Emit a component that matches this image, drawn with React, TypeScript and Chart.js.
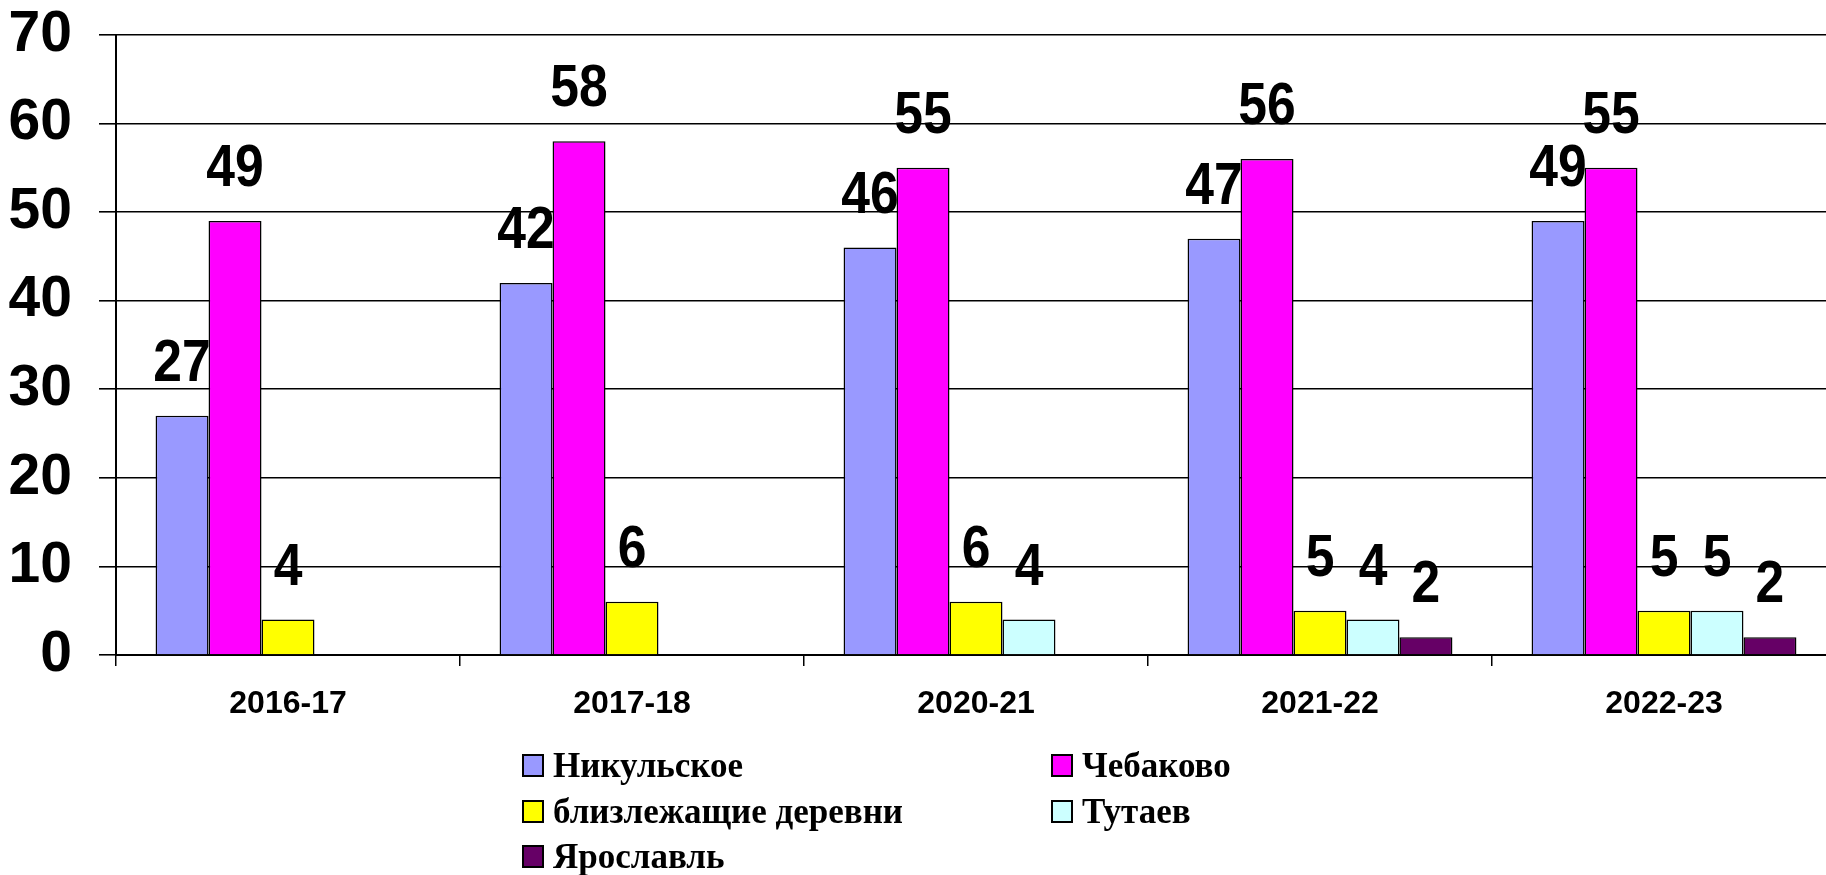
import React, { useEffect, useRef } from "react";
import { Chart, registerables } from "chart.js";

Chart.register(...registerables);

const categories = ["2016-17", "2017-18", "2020-21", "2021-22", "2022-23"];
const seriesNames = ["Никульское", "Чебаково", "близлежащие деревни", "Тутаев", "Ярославль"];
const nikulskoe = [27, 42, 46, 47, 49];
const chebakovo = [49, 58, 55, 56, 55];
const blizDerevni = [4, 6, 6, 5, 5];
const tutaev = [null, null, 4, 4, 5];
const yaroslavl = [null, null, null, 2, 2];
const seriesColors = ["#9999FF", "#FF00FF", "#FFFF00", "#CCFFFF", "#660066"];
const yTicks = [0, 10, 20, 30, 40, 50, 60, 70];

const SANS = "'Liberation Sans', Arial, sans-serif";
const SERIF = "'Liberation Serif', 'Times New Roman', serif";

const dataLabelPlugin = {
  id: "dataLabelsBehind",
  beforeDatasetsDraw(chart: any) {
    const ctx = chart.ctx;
    ctx.save();
    ctx.fillStyle = "#000";
    ctx.font = `bold 60px ${SANS}`;
    ctx.textAlign = "center";
    ctx.textBaseline = "alphabetic";
    chart.data.datasets.forEach((ds: any, i: number) => {
      const meta = chart.getDatasetMeta(i);
      meta.data.forEach((el: any, j: number) => {
        const v = ds.data[j];
        if (v === null || v === undefined) return;
        ctx.save();
        ctx.translate(el.x, el.y - 35);
        ctx.scale(0.86, 1);
        ctx.fillText(String(v), 0, 0);
        ctx.restore();
      });
    });
    ctx.restore();
  },
};

const legendPlugin = {
  id: "customLegend",
  afterDraw(chart: any) {
    const ctx = chart.ctx;
    const colX = [523, 1052];
    const rowY = [755, 801, 846];
    ctx.save();
    ctx.font = `bold 35px ${SERIF}`;
    ctx.textAlign = "left";
    ctx.textBaseline = "alphabetic";
    chart.data.datasets.forEach((ds: any, i: number) => {
      const col = i % 2;
      const row = Math.floor(i / 2);
      const x = colX[col];
      const y = rowY[row];
      ctx.fillStyle = ds.backgroundColor;
      ctx.fillRect(x, y, 20, 21);
      ctx.lineWidth = 2;
      ctx.strokeStyle = "#000";
      ctx.strokeRect(x, y, 20, 21);
      ctx.fillStyle = "#000";
      ctx.fillText(ds.label, x + 30, y + 22);
    });
    ctx.restore();
  },
};

export default function App() {
  const canvasRef = useRef<HTMLCanvasElement | null>(null);

  useEffect(() => {
    if (!canvasRef.current) return;
    const seriesData = [nikulskoe, chebakovo, blizDerevni, tutaev, yaroslavl];
    const chart = new Chart(canvasRef.current, {
      type: "bar",
      data: {
        labels: categories,
        datasets: seriesNames.map((name, i) => ({
          label: name,
          data: seriesData[i],
          backgroundColor: seriesColors[i],
          borderColor: "#000",
          borderWidth: 1.5,
          categoryPercentage: 0.77,
          barPercentage: 1.0,
        })),
      },
      options: {
        responsive: true,
        maintainAspectRatio: false,
        animation: false,
        layout: { padding: { top: 35, left: 0, right: 0, bottom: 0 } },
        plugins: {
          legend: { display: false },
          tooltip: { enabled: false },
          title: { display: false },
        },
        scales: {
          x: {
            offset: true,
            grid: {
              display: true,
              drawOnChartArea: false,
              drawTicks: true,
              tickLength: 11,
              color: "#000",
              lineWidth: 1.5,
            },
            border: { display: true, color: "#000", width: 2 },
            ticks: {
              color: "#000",
              font: { family: SANS, weight: "bold", size: 32 },
              padding: 19,
              maxRotation: 0,
              autoSkip: false,
            },
            afterFit: (scale: any) => {
              scale.height = 220;
            },
          },
          y: {
            min: 0,
            max: 70,
            afterBuildTicks: (scale: any) => {
              scale.ticks = yTicks.map((v) => ({ value: v }));
            },
            grid: {
              color: "#000",
              lineWidth: 1.6,
              tickLength: 17,
              drawTicks: true,
            },
            border: { display: true, color: "#000", width: 2 },
            ticks: {
              color: "#000",
              font: { family: SANS, weight: "bold", size: 57, lineHeight: 0.25 },
              padding: 27,
            },
            afterFit: (scale: any) => {
              scale.width = 116;
            },
          },
        },
      },
      plugins: [dataLabelPlugin, legendPlugin],
    });
    return () => chart.destroy();
  }, []);

  return (
    <div
      style={{
        position: "fixed",
        left: 0,
        top: 0,
        width: "1826px",
        height: "875px",
        overflow: "hidden",
        background: "#fff",
      }}
    >
      <div style={{ position: "relative", width: "1836px", height: "875px" }}>
        <canvas ref={canvasRef} />
      </div>
    </div>
  );
}
